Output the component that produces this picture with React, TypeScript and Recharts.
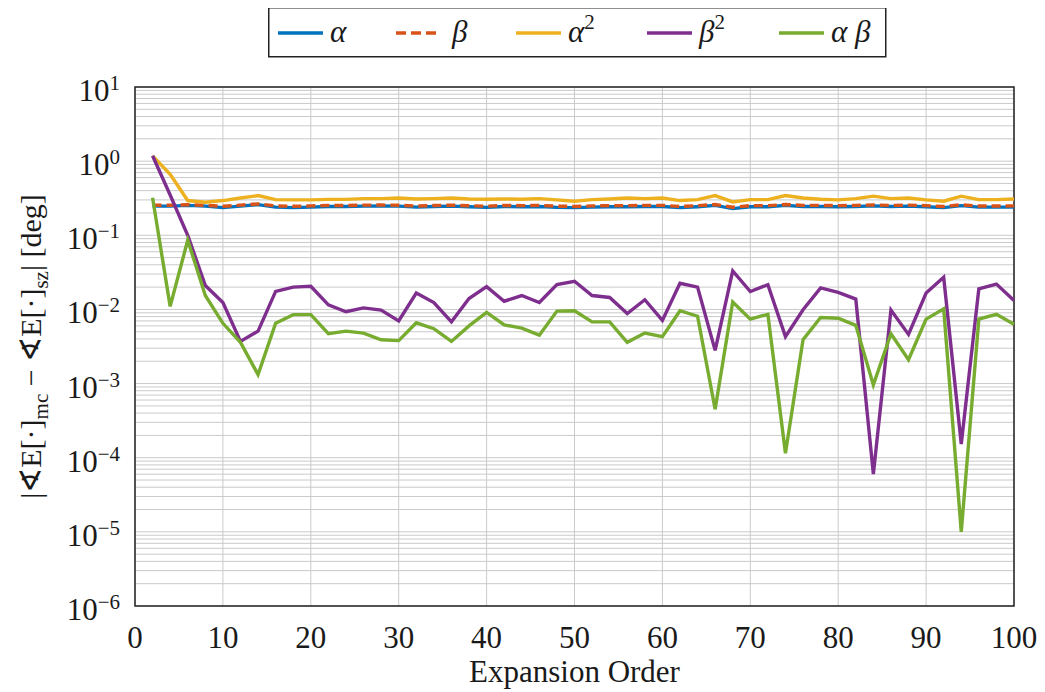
import { LineChart, Line, XAxis, YAxis, CartesianGrid, ReferenceArea } from "recharts";

// expansion orders (x)
const orders = [
  2, 4, 6, 8, 10, 12, 14, 16, 18, 20, 22, 24, 26, 28, 30, 32, 34, 36, 38, 40, 42, 44, 46, 48, 50,
  52, 54, 56, 58, 60, 62, 64, 66, 68, 70, 72, 74, 76, 78, 80, 82, 84, 86, 88, 90, 92, 94, 96, 98, 100,
];

// |E_mc - E_sz| in deg
const alphaErr = [
  0.247, 0.247, 0.253, 0.247, 0.236, 0.247, 0.259, 0.24, 0.236, 0.24, 0.245, 0.245, 0.247, 0.249, 0.247,
  0.24, 0.245, 0.247, 0.243, 0.238, 0.245, 0.243, 0.245, 0.238, 0.236, 0.24, 0.243, 0.243, 0.245, 0.245,
  0.236, 0.243, 0.253, 0.229, 0.243, 0.243, 0.253, 0.245, 0.245, 0.243, 0.245, 0.249, 0.245, 0.247, 0.243,
  0.236, 0.251, 0.24, 0.24, 0.24,
];
const betaErr = [
  0.255, 0.254, 0.258, 0.254, 0.246, 0.255, 0.265, 0.249, 0.246, 0.249, 0.253, 0.252, 0.255, 0.256, 0.254,
  0.248, 0.252, 0.255, 0.25, 0.247, 0.253, 0.251, 0.253, 0.247, 0.245, 0.249, 0.251, 0.251, 0.253, 0.253,
  0.245, 0.251, 0.26, 0.239, 0.251, 0.251, 0.26, 0.253, 0.253, 0.251, 0.253, 0.257, 0.253, 0.255, 0.251,
  0.245, 0.258, 0.248, 0.248, 0.249,
];
const alphaSqErr = [
  1.18, 0.665, 0.294, 0.279, 0.294, 0.318, 0.343, 0.303, 0.3, 0.3, 0.305, 0.305, 0.312, 0.312, 0.318,
  0.309, 0.312, 0.318, 0.309, 0.306, 0.309, 0.306, 0.312, 0.3, 0.288, 0.303, 0.309, 0.318, 0.312, 0.318,
  0.294, 0.303, 0.343, 0.282, 0.303, 0.303, 0.343, 0.318, 0.306, 0.3, 0.312, 0.337, 0.312, 0.318, 0.3,
  0.288, 0.337, 0.303, 0.303, 0.309,
];
const betaSqErr = [
  1.18, 0.35, 0.1, 0.021, 0.0124, 0.0037, 0.0051, 0.0175, 0.02, 0.0205, 0.0115, 0.0093, 0.0105, 0.0098, 0.007,
  0.0166, 0.0124, 0.0068, 0.014, 0.0203, 0.0129, 0.0154, 0.0124, 0.0216, 0.024, 0.0154, 0.0145, 0.0088, 0.0135, 0.0071,
  0.0225, 0.02, 0.0028, 0.033, 0.0174, 0.0216, 0.0043, 0.0099, 0.0195, 0.017, 0.0138, 0.00006, 0.0098, 0.0046, 0.0166,
  0.0272, 0.000153, 0.0189, 0.022, 0.0132,
];
const alphaBetaErr = [
  0.32, 0.011, 0.086, 0.0154, 0.0065, 0.0036, 0.00132, 0.0065, 0.0085, 0.0085, 0.0047, 0.0051, 0.0048, 0.0039, 0.0038,
  0.0066, 0.0055, 0.0037, 0.006, 0.0091, 0.0062, 0.0056, 0.0045, 0.0095, 0.0096, 0.0068, 0.0068, 0.0036, 0.0048, 0.0043,
  0.0096, 0.0081, 0.00045, 0.0126, 0.0074, 0.0086, 0.000115, 0.0039, 0.0078, 0.0076, 0.0061, 0.00096, 0.0047, 0.0021, 0.0074,
  0.0102, 0.00001, 0.0074, 0.0086, 0.0063,
];

const xTicks = [0, 10, 20, 30, 40, 50, 60, 70, 80, 90, 100];
const decades = [1e-6, 1e-5, 1e-4, 1e-3, 1e-2, 1e-1, 1, 10];
const minorSteps = [2, 3, 4, 5, 6, 7, 8, 9];

const yTicks = decades.flatMap((d, i) =>
  i < decades.length - 1 ? [d, ...minorSteps.map((m) => m * d)] : [d]
);

const data = orders.map((n, i) => ({
  n,
  alpha: alphaErr[i],
  beta: betaErr[i],
  alphaSq: alphaSqErr[i],
  betaSq: betaSqErr[i],
  alphaBeta: alphaBetaErr[i],
}));

const FONT = "'Liberation Serif', 'DejaVu Serif', serif";
const TEXT = "#1a1a1a";

const series = [
  { key: "alpha", color: "#0072BD", dash: undefined, base: "α", sup: "" },
  { key: "beta", color: "#D95319", dash: "9 5", base: "β", sup: "" },
  { key: "alphaSq", color: "#EDB120", dash: undefined, base: "α", sup: "2" },
  { key: "betaSq", color: "#7E2F8E", dash: undefined, base: "β", sup: "2" },
  { key: "alphaBeta", color: "#77AC30", dash: undefined, base: "α β", sup: "" },
];
const legendX = [10, 128, 248, 379, 511];

function YTick({ x, y, payload }: any) {
  const v = payload.value;
  const e = Math.round(Math.log10(v));
  if (Math.abs(Math.log10(v) - e) > 1e-6) return <g />;
  return (
    <text x={x - 13} y={y + 14} textAnchor="end" fontFamily={FONT} fontSize={31} fill={TEXT}>
      10
      <tspan dy={-11} fontSize={21}>
        {e < 0 ? "\u2212" + Math.abs(e) : String(e)}
      </tspan>
    </text>
  );
}

function XTick({ x, y, payload }: any) {
  return (
    <text x={x} y={y + 34} textAnchor="middle" fontFamily={FONT} fontSize={31} fill={TEXT}>
      {payload.value}
    </text>
  );
}

function XTitle({ viewBox }: any) {
  const { x, y, width } = viewBox;
  return (
    <text x={x + width / 2} y={y + 76} textAnchor="middle" fontFamily={FONT} fontSize={31} fill={TEXT}>
      Expansion Order
    </text>
  );
}

function YTitle({ viewBox }: any) {
  const cx = 33;
  const cy = viewBox.y + viewBox.height / 2;
  return (
    <text
      x={cx}
      y={cy}
      transform={`rotate(-90, ${cx}, ${cy})`}
      textAnchor="middle"
      fontFamily={FONT}
      fontSize={30}
      fill={TEXT}
      style={{ whiteSpace: "pre" }}
    >
      <tspan>|∢E[·]</tspan>
      <tspan dy={7} fontSize={21}>mc</tspan>
      <tspan dy={-7}>{" \u2212 ∢E[·]"}</tspan>
      <tspan dy={7} fontSize={21}>sz</tspan>
      <tspan dy={-7}>{"| [deg]"}</tspan>
    </text>
  );
}

function LegendBox() {
  return (
    <svg
      width={620}
      height={52}
      style={{ position: "absolute", left: 260, top: -1, overflow: "visible" }}
    >
      <rect x={0.75} y={0.75} width={617} height={49} fill="#fff" stroke="#222" strokeWidth={1.5} />
      {series.map((s, i) => {
        const lx = legendX[i];
        return (
          <g key={s.key}>
            <line
              x1={lx}
              x2={lx + 45}
              y1={26}
              y2={26}
              stroke={s.color}
              strokeWidth={3.4}
              strokeDasharray={s.dash ? "10 5" : undefined}
            />
            <text
              x={lx + (s.dash ? 56 : 52)}
              y={35}
              fontFamily={FONT}
              fontSize={31}
              fontStyle="italic"
              fill={TEXT}
              style={{ whiteSpace: "pre" }}
            >
              {s.base}
              {s.sup && (
                <tspan dy={-13} fontSize={21} fontStyle="normal">
                  {s.sup}
                </tspan>
              )}
            </text>
          </g>
        );
      })}
    </svg>
  );
}

export default function App() {
  return (
    <div style={{ position: "relative", width: 1030, height: 684 }}>
      <LineChart
        width={1030}
        height={684}
        data={data}
        margin={{ top: 79, right: 24, left: 0, bottom: 0 }}
      >
        <CartesianGrid stroke="#cacaca" strokeWidth={1} />
        <XAxis
          dataKey="n"
          type="number"
          domain={[0, 100]}
          ticks={xTicks}
          interval={0}
          height={86}
          tickLine={false}
          axisLine={false}
          tick={<XTick />}
          label={<XTitle />}
        />
        <YAxis
          type="number"
          scale="log"
          domain={[1e-6, 10]}
          allowDataOverflow
          ticks={yTicks}
          interval={0}
          width={127}
          tickLine={false}
          axisLine={false}
          tickSize={0}
          tick={<YTick />}
          label={<YTitle />}
        />
        {series.map((s) => (
          <Line
            key={s.key}
            dataKey={s.key}
            stroke={s.color}
            strokeWidth={3.4}
            strokeDasharray={s.dash}
            dot={false}
            activeDot={false}
            isAnimationActive={false}
            strokeLinejoin="miter"
          />
        ))}
        <ReferenceArea
          x1={0}
          x2={100}
          y1={1e-6}
          y2={10}
          fill="none"
          stroke="#222"
          strokeWidth={1.5}
          ifOverflow="visible"
        />
      </LineChart>
      <LegendBox />
    </div>
  );
}
